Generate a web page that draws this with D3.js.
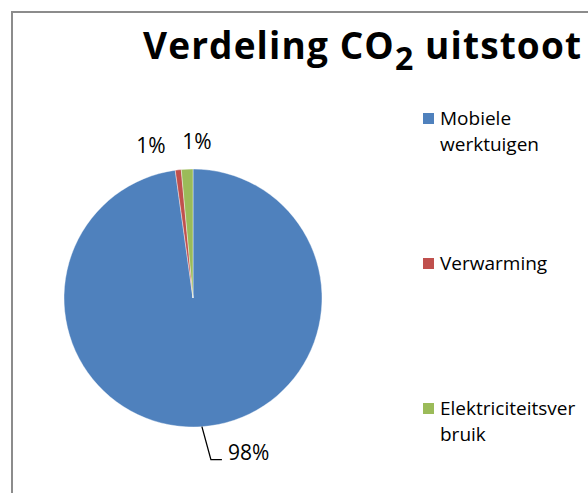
<!DOCTYPE html>
<html>
<head>
<meta charset="utf-8">
<script src="https://cdn.jsdelivr.net/npm/d3@7"></script>
<style>
  body { margin: 0; background: #fff; }
  text { font-family: "Open Sans", "Noto Sans", sans-serif; }
</style>
</head>
<body>
<div id="chart"></div>
<script>
// data
const categories = ["Mobiele werktuigen", "Verwarming", "Elektriciteitsverbruik"];
const shares = [97.8, 0.75, 1.45];
const pctLabels = ["98%", "1%", "1%"];
const legendLines = [["Mobiele", "werktuigen"], ["Verwarming"], ["Elektriciteitsver", "bruik"]];
const colors = ["#4F81BD", "#C0504D", "#9BBB59"];

const width = 588;
const height = 493;
const cx = 193, cy = 298, r = 129;

const svg = d3.select("#chart")
  .append("svg")
  .attr("width", width)
  .attr("height", height);

// chart frame (only top and left edges are inside the crop)
svg.append("rect")
  .attr("x", 12)
  .attr("y", 12)
  .attr("width", 700)
  .attr("height", 700)
  .attr("fill", "none")
  .attr("stroke", "#8c8c8c")
  .attr("stroke-width", 2);

// title
const title = svg.append("text")
  .attr("x", 143)
  .attr("y", 59)
  .attr("font-weight", "bold")
  .attr("font-size", 37)
  .attr("fill", "#000");
title.append("tspan").text("Verdeling CO");
title.append("tspan").attr("font-size", 32).attr("dy", 11).text("2");
title.append("tspan").attr("dy", -11).text(" uitstoot");
// stretch to the width the title has in the picture
const tw = title.node().getComputedTextLength();
title.attr("letter-spacing", (438 - tw) / 21);

const color = d3.scaleOrdinal().domain(categories).range(colors);

const pie = d3.pie().sort(null).value(d => d.value);
const arcs = pie(categories.map((c, i) => ({ name: c, value: shares[i] })));
const arc = d3.arc().innerRadius(0).outerRadius(r);

const g = svg.append("g").attr("transform", `translate(${cx},${cy})`);

g.selectAll("path.slice")
  .data(arcs)
  .join("path")
  .attr("class", "slice")
  .attr("d", arc)
  .attr("fill", d => color(d.data.name))
  .attr("stroke", "#fff")
  .attr("stroke-width", 0.4);

// data labels
const labelArc = d3.arc().innerRadius(158).outerRadius(158);
const nudge = [[0, 0], [-24, 4], [11, 1]];

arcs.forEach((d, i) => {
  if (i === 0) {
    // leader line for the big slice
    const a = (d.startAngle + d.endAngle) / 2;
    const p0 = [Math.sin(a) * r, -Math.cos(a) * r];
    const p1 = [p0[0] + 9, p0[1] + 33];
    const p2 = [p1[0] + 11, p1[1]];
    g.append("path")
      .attr("d", d3.line()([p0, p1, p2]))
      .attr("fill", "none")
      .attr("stroke", "#000")
      .attr("stroke-width", 1.3);
    g.append("text")
      .attr("x", p2[0] + 6)
      .attr("y", p2[1])
      .attr("font-size", 21)
      .attr("fill", "#000")
      .text(pctLabels[i]);
  } else {
    const c = labelArc.centroid(d);
    g.append("text")
      .attr("x", c[0] + nudge[i][0])
      .attr("y", c[1] + nudge[i][1])
      .attr("text-anchor", "middle")
      .attr("dominant-baseline", "central")
      .attr("font-size", 21)
      .attr("fill", "#000")
      .text(pctLabels[i]);
  }
});

// legend
const ly = d3.scalePoint().domain(categories).range([125, 415]);
const legend = svg.append("g")
  .selectAll("g")
  .data(categories)
  .join("g")
  .attr("transform", d => `translate(423,${ly(d)})`);

legend.append("rect")
  .attr("x", 0)
  .attr("y", -12)
  .attr("width", 11)
  .attr("height", 11)
  .attr("fill", d => color(d));

legend.append("text")
  .attr("font-size", 19)
  .attr("fill", "#000")
  .selectAll("tspan")
  .data((d, i) => legendLines[i])
  .join("tspan")
  .attr("x", 17)
  .attr("y", (d, j) => j * 26)
  .text(d => d);
</script>
</body>
</html>
